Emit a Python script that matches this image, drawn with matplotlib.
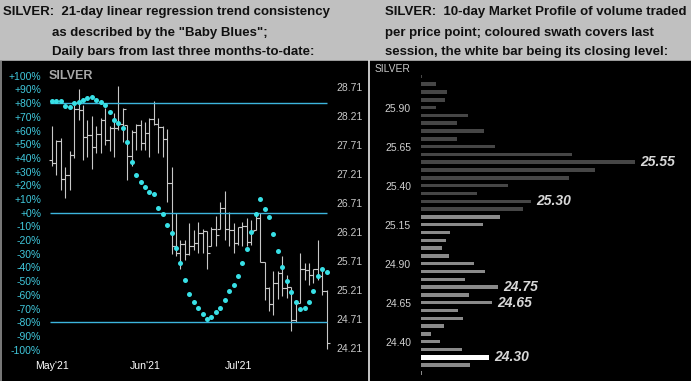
import numpy as np
import matplotlib
matplotlib.use("Agg")
import matplotlib.pyplot as plt
from matplotlib.patches import Rectangle
from matplotlib.lines import Line2D

plt.rcParams['font.family'] = ['Liberation Sans', 'DejaVu Sans']

# daily silver bars, May'21 .. Jul'21
opens = [27.45, 27.40, 27.78, 27.12, 27.19, 27.54, 28.33, 28.31, 27.84, 27.88,
         27.68, 27.90, 28.14, 27.80, 28.00, 28.00, 28.08, 28.06, 27.52, 27.94,
         28.06, 27.75, 27.91, 28.15, 28.07, 28.02, 27.81, 27.06, 25.96, 25.85,
         26.00, 25.83, 25.96, 26.02, 26.20, 26.22, 25.96, 26.27, 26.27, 26.62,
         26.26, 26.24, 26.02, 26.30, 26.31, 26.04, 26.24, 26.45, 25.70, 25.24,
         24.97, 25.33, 25.50, 25.24, 25.26, 24.70, 24.99, 25.58, 25.56, 25.47,
         25.58, 25.45, 25.20]
highs = [28.03, 27.80, 27.83, 27.33, 27.60, 28.40, 28.67, 28.40, 28.14, 28.21,
         28.03, 28.17, 28.34, 28.03, 28.26, 28.73, 28.34, 28.06, 27.97, 28.08,
         28.14, 28.11, 28.17, 28.46, 28.17, 28.03, 27.98, 27.33, 26.54, 26.07,
         26.07, 26.36, 26.24, 26.39, 26.26, 26.22, 26.30, 26.49, 26.73, 26.92,
         26.56, 26.36, 26.30, 26.39, 26.45, 26.42, 26.56, 26.54, 25.70, 25.27,
         25.53, 25.53, 25.79, 25.47, 25.27, 25.04, 25.85, 25.67, 25.67, 25.58,
         26.08, 25.57, 25.21]
lows = [27.34, 27.19, 26.93, 26.79, 26.93, 27.49, 28.14, 27.45, 27.51, 27.29,
        27.57, 27.57, 27.71, 27.60, 27.51, 27.97, 27.77, 27.11, 27.34, 27.62,
        27.62, 27.62, 27.50, 28.06, 27.58, 27.50, 26.72, 25.83, 25.79, 25.58,
        25.73, 25.81, 25.90, 25.85, 25.85, 25.57, 25.96, 25.97, 26.27, 26.08,
        25.96, 25.85, 25.99, 25.96, 25.96, 25.99, 26.24, 25.70, 25.04, 24.84,
        24.78, 25.05, 25.10, 25.07, 24.51, 24.66, 24.99, 25.38, 25.30, 25.33,
        25.38, 25.12, 24.20]
closes = [27.40, 27.78, 27.12, 27.19, 27.54, 28.33, 28.31, 27.84, 27.88, 27.68,
          27.90, 28.14, 27.80, 28.00, 28.00, 28.08, 28.33, 27.52, 27.94, 28.06,
          27.75, 27.91, 28.15, 28.07, 28.02, 27.81, 27.06, 25.96, 25.85, 26.00,
          25.83, 25.96, 26.02, 26.20, 26.22, 25.85, 26.27, 26.16, 26.62, 26.26,
          26.24, 26.02, 26.30, 26.31, 26.04, 26.22, 26.45, 25.70, 25.24, 24.97,
          25.33, 25.50, 25.24, 25.26, 24.70, 24.99, 25.58, 25.56, 25.47, 25.58,
          25.45, 25.20, 24.30]
# "Baby Blues" trend consistency (%)
blues = [81.2, 81.5, 81.5, 77.8, 77.1, 80.0, 80.7, 82.0, 83.6, 84.4,
         82.0, 80.7, 78.8, 73.5, 67.4, 65.3, 61.8, 51.6, 37.1, 27.4,
         22.5, 18.9, 14.8, 13.5, 3.6, -1.0, -9.0, -14.5, -25.5, -37.0,
         -49.0, -59.0, -65.5, -69.4, -73.7, -77.3, -76.5, -72.7, -69.3, -63.5,
         -57.5, -52.5, -46.5, -37.0, -26.4, -14.2, -1.0, 10.2, 2.9, -2.9,
         -15.3, -27.9, -39.3, -49.7, -57.7, -65.5, -70.5, -69.8, -65.0, -57.5,
         -46.0, -41.0, -43.5]
month_pos = [0, 21, 42]
month_labels = ["May'21", "Jun'21", "Jul'21"]
price_ticks = [24.21, 24.71, 25.21, 25.71, 26.21, 26.71, 27.21, 27.71, 28.21, 28.71]
pct_ticks = list(range(-100, 101, 10))
blue_levels = [80, 0, -80]

# 10-day market profile
mp_prices = [26.10, 26.05, 26.00, 25.95, 25.90, 25.85, 25.80, 25.75, 25.70, 25.65,
             25.60, 25.55, 25.50, 25.45, 25.40, 25.35, 25.30, 25.25, 25.20, 25.15,
             25.10, 25.05, 25.00, 24.95, 24.90, 24.85, 24.80, 24.75, 24.70, 24.65,
             24.60, 24.55, 24.50, 24.45, 24.40, 24.35, 24.30, 24.25, 24.20]
mp_volume = [1, 15, 26, 24, 15, 47, 36, 63, 36, 74,
             151, 214, 174, 148, 87, 56, 110, 102, 79, 62,
             29, 25, 21, 28, 53, 64, 44, 77, 48, 71,
             37, 42, 23, 10, 19, 41, 68, 49, 1]
mp_marked = [25.55, 25.30, 24.75, 24.65, 24.30]
mp_ticks = [25.90, 25.65, 25.40, 25.15, 24.90, 24.65, 24.40]

W, H = 691, 381
fig = plt.figure(figsize=(W / 100, H / 100), dpi=100, facecolor='#c0c0c0')


def box(l, t, r, b):
    return [l / W, 1 - b / H, (r - l) / W, (b - t) / H]


fig.patches.append(Rectangle((0, 0), 1, 1 - 61 / H, transform=fig.transFigure,
                             color='black', zorder=-2))
fig.lines.append(Line2D([369.5 / W] * 2, [0, 1 - 61 / H], transform=fig.transFigure,
                        color='#e8e8e8', lw=1.2))
fig.lines.append(Line2D([0.8 / W] * 2, [0, 1 - 61 / H], transform=fig.transFigure,
                        color='#909090', lw=1.2))

hdr = dict(fontsize=9.5, fontweight='bold', color='#111111', va='baseline')
fig.text(3 / W, 1 - 14.5 / H, 'SILVER:  21-day linear regression trend consistency', **hdr)
fig.text(52 / W, 1 - 36 / H, 'as described by the "Baby Blues";', **hdr)
fig.text(52 / W, 1 - 55 / H, 'Daily bars from last three months-to-date:', **hdr)
fig.text(385 / W, 1 - 14.5 / H, 'SILVER:  10-day Market Profile of volume traded', **hdr)
fig.text(385 / W, 1 - 36 / H, 'per price point; coloured swath covers last', **hdr)
fig.text(385 / W, 1 - 55 / H, 'session, the white bar being its closing level:', **hdr)

# ---- left: price bars + baby blues
x = np.arange(len(closes))
ax = fig.add_axes(box(48, 70, 331, 355))
ax.set_facecolor('none')
bar_col = '#c8c8c8'
ax.vlines(x, lows, highs, color=bar_col, lw=0.8)
ax.hlines(opens, x - 0.7, x, color=bar_col, lw=0.8)
ax.hlines(closes, x, x + 0.7, color=bar_col, lw=0.8)
ax.set_xlim(-0.903, 62.98)
ax.set_ylim(24.089, 29.003)
ax.set_xticks(month_pos)
ax.set_xticklabels(month_labels)
ax.tick_params(axis='x', length=0, pad=4, labelsize=7.6, labelcolor='white')
for s in ax.spines.values():
    s.set_visible(False)

ax2 = ax.twinx()
ax2.set_ylim(-103.9, 104.2)
ax2.yaxis.tick_left()
ax2.set_yticks(pct_ticks)
ax2.set_yticklabels([format(v, '+d') + '%' for v in pct_ticks])
ax2.tick_params(axis='y', length=0, pad=5, labelsize=7.5, labelcolor='#40c8dc')
ax2.hlines(blue_levels, -0.45, 62.1, color='#3db5dd', lw=1.0)
ax2.plot(x, blues, 'o', color='#38e0e6', ms=3.6, mec='none')
for s in ax2.spines.values():
    s.set_visible(False)

# price scale on the right (after twinx, which moves it left)
ax.yaxis.tick_right()
ax.set_yticks(price_ticks)
ax.set_yticklabels(['%.2f' % p for p in price_ticks])
ax.tick_params(axis='y', length=0, pad=3.6, labelsize=7.5, labelcolor='#c8c8c8')

fig.text(49 / W, 1 - 76 / H, 'SILVER', fontsize=9, fontweight='bold', color='#a8a8a8', va='center')

# ---- right: market profile
last_lo, last_hi, last_close = lows[-1], highs[-1], closes[-1]
cols, hts = [], []
for p in mp_prices:
    if np.isclose(p, last_close):
        cols.append('white')
        hts.append(0.029)
    elif last_lo - 1e-6 <= p <= last_hi + 1e-6:
        cols.append('#8a8a8a')
        hts.append(0.0224)
    else:
        cols.append('#464646')
        hts.append(0.0224)

ax3 = fig.add_axes(box(416, 61, 690, 378))
ax3.set_facecolor('none')
ax3.barh(mp_prices, mp_volume, height=hts, color=cols)
ax3.set_xlim(-5, 269)
ax3.set_ylim(24.167, 26.199)
ax3.set_xticks([])
ax3.set_yticks(mp_ticks)
ax3.set_yticklabels(['%.2f' % p for p in mp_ticks])
ax3.tick_params(axis='y', length=0, pad=3.6, labelsize=7.5, labelcolor='#d0d0d0')
for s in ax3.spines.values():
    s.set_visible(False)
for p in mp_marked:
    v = mp_volume[int(np.argmin(np.abs(np.array(mp_prices) - p)))]
    ax3.annotate('%.2f' % p, (v, p), xytext=(3.6, 0), textcoords='offset points',
                 va='center', ha='left', fontsize=10, fontweight='bold',
                 style='italic', color='#d8d8d8')
fig.text(375 / W, 1 - 69 / H, 'SILVER', fontsize=7.4, color='#c8c8c8', va='center')

fig.savefig('out.png', dpi=100, facecolor=fig.get_facecolor())
